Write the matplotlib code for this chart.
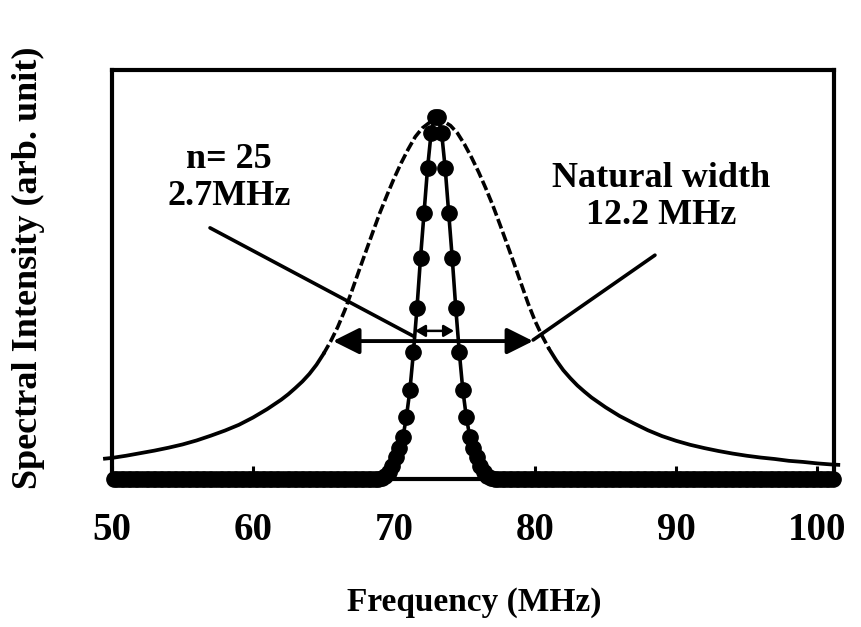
import numpy as np
import matplotlib
matplotlib.use('Agg')
import matplotlib.pyplot as plt
from matplotlib.patches import FancyArrowPatch

plt.rcParams['font.family'] = ['Liberation Serif', 'DejaVu Serif']
plt.rcParams['font.weight'] = 'bold'

# natural line shape (FWHM 12.2 MHz)
lorentz_freq = [49.5, 50, 51, 52, 53, 54, 55, 56, 57, 58, 59, 60, 61, 62,
                62.5, 63, 63.5, 64, 64.5, 65, 65.5, 66, 66.5, 67, 67.5, 68,
                68.5, 69, 69.5, 70, 70.5, 71, 71.5, 72, 72.5, 73, 73.5, 74,
                74.5, 75, 75.5, 76, 76.5, 77, 77.5, 78, 78.5, 79, 79.5, 80,
                80.5, 81, 81.5, 82, 82.5, 83, 83.5, 84,
                85, 86, 87, 88, 89, 90, 91, 92, 93, 94, 95, 96, 97, 98, 99,
                100, 101, 101.5]
lorentz_vals = [0.056, 0.058, 0.064, 0.071, 0.078, 0.086, 0.095, 0.106, 0.119,
                0.133, 0.149, 0.169, 0.192, 0.218,
                0.233, 0.250, 0.268, 0.289, 0.314, 0.344, 0.378, 0.417, 0.463,
                0.516, 0.571, 0.625, 0.679, 0.732, 0.780, 0.826, 0.868, 0.906,
                0.940, 0.964, 0.979, 0.985, 0.983, 0.971, 0.950, 0.919, 0.883,
                0.843, 0.799, 0.752, 0.700, 0.647, 0.593, 0.538, 0.483, 0.434,
                0.393, 0.357, 0.326, 0.299, 0.277, 0.257, 0.240, 0.224,
                0.197, 0.173, 0.153, 0.134, 0.118, 0.105, 0.094, 0.085, 0.077,
                0.070, 0.064, 0.059, 0.055, 0.050, 0.047, 0.043, 0.040, 0.039]

# narrowed line, n = 25 (FWHM 2.7 MHz), 0.25 MHz sampling
narrow_freq = [69.125, 69.375, 69.625, 69.875, 70.125, 70.375, 70.625, 70.875,
               71.125, 71.375, 71.625, 71.875, 72.125, 72.375, 72.625, 72.875,
               73.125, 73.375, 73.625, 73.875, 74.125, 74.375, 74.625, 74.875,
               75.125, 75.375, 75.625, 75.875, 76.125, 76.375, 76.625, 76.875]
narrow_vals = [0.003, 0.008, 0.018, 0.035, 0.060, 0.085, 0.115, 0.170,
               0.245, 0.349, 0.470, 0.607, 0.731, 0.854, 0.950, 0.995,
               0.995, 0.950, 0.854, 0.731, 0.607, 0.470, 0.349, 0.245,
               0.170, 0.115, 0.085, 0.060, 0.035, 0.018, 0.008, 0.003]
# flat (zero) parts of the narrowed line on both sides
flat_left = np.arange(50.125, 69.0, 0.25)
flat_right = np.arange(77.125, 101.2, 0.25)

dots_x = np.concatenate([flat_left, narrow_freq, flat_right])
dots_y = np.concatenate([np.zeros(len(flat_left)), narrow_vals,
                         np.zeros(len(flat_right))])

fig = plt.figure(figsize=(8.61, 6.27), dpi=100)
ax = fig.add_axes([0.1301, 0.2360, 0.8386, 0.6523])

# natural line: solid tails, dashed core
lf = np.array(lorentz_freq)
lv = np.array(lorentz_vals)
core = np.where(lv > 0.33)[0]
lo, hi = core[0], core[-1]
ax.plot(lf[:lo + 1], lv[:lo + 1], color='black', lw=2.7, clip_on=False, zorder=2)
ax.plot(lf[hi:], lv[hi:], color='black', lw=2.7, clip_on=False, zorder=2)
ax.plot(lf[lo:hi + 1], lv[lo:hi + 1], color='black', lw=2.6,
        dashes=(2.8, 1.0), zorder=2)

# narrowed line with dots
ax.plot(dots_x, dots_y, color='black', lw=2.6, marker='o', markersize=11,
        clip_on=False, zorder=3)

# width arrows
big = FancyArrowPatch((65.67, 0.379), (79.86, 0.379),
                      arrowstyle='<|-|>,head_length=16,head_width=8',
                      mutation_scale=1, lw=2.8, color='black',
                      shrinkA=0, shrinkB=0, zorder=4)
ax.add_patch(big)
small = FancyArrowPatch((71.49, 0.407), (74.25, 0.407),
                        arrowstyle='<|-|>,head_length=6,head_width=3.5',
                        mutation_scale=1, lw=1.8, color='black',
                        shrinkA=0, shrinkB=0, zorder=4)
ax.add_patch(small)

# leader lines to the labels
ax.annotate('', xy=(71.35, 0.393), xytext=(56.95, 0.69),
            arrowprops=dict(arrowstyle='-', lw=2.6, color='black',
                            shrinkA=0, shrinkB=0))
ax.annotate('', xy=(79.86, 0.382), xytext=(88.5, 0.615),
            arrowprops=dict(arrowstyle='-', lw=2.6, color='black',
                            shrinkA=0, shrinkB=0))

ax.text(58.3, 0.826, 'n= 25\n2.7MHz', ha='center', va='center',
        fontsize=26, linespacing=1.15)
ax.text(88.94, 0.775, 'Natural width\n12.2 MHz', ha='center', va='center',
        fontsize=26, linespacing=1.15)

ax.set_xlim(50, 101.2)
ax.set_ylim(0, 1.1236)
ax.set_xticks([50, 60, 70, 80, 90, 100])
ax.set_yticks([])
ax.tick_params(axis='x', direction='in', length=9.5, width=2.2, pad=24,
               labelsize=28)
for s in ax.spines.values():
    s.set_linewidth(3.0)

fig.text(474 / 861, 1 - 603 / 627, 'Frequency (MHz)', ha='center',
         va='center', fontsize=24, fontweight='bold')
fig.text(28 / 861, 1 - 268 / 627, 'Spectral Intensity (arb. unit)',
         ha='center', va='center', rotation=90, fontsize=26,
         fontweight='bold')

fig.savefig('out.png', dpi=100)
